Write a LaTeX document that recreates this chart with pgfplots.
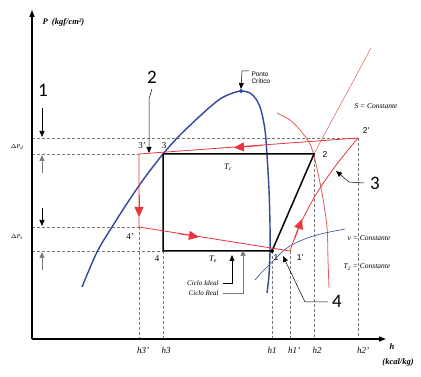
\documentclass[border=0pt]{standalone}
\usepackage{fontspec}
\setmainfont{Liberation Serif}
\newfontfamily\calfont{Carlito}
\newfontfamily\arfont{Liberation Sans}
\usepackage{pgfplots}
\pgfplotsset{compat=1.18}
\usetikzlibrary{arrows.meta}
\definecolor{domeblue}{RGB}{50,70,155}
\definecolor{cycred}{RGB}{232,52,58}
\definecolor{thinred}{RGB}{228,90,90}
\definecolor{dgray}{RGB}{120,120,120}
\begin{document}
\begin{tikzpicture}
\begin{axis}[hide axis, scale only axis, width=421pt, height=377pt,
  xmin=0, xmax=421, ymin=0, ymax=377, y dir=reverse, clip=false]
\addplot[draw=none, forget plot] coordinates {(0,0)(421,377)};
% dashed guide lines
\addplot[dgray, densely dashed, line width=0.6pt] coordinates {(32,138)(358,138)};
\addplot[dgray, densely dashed, line width=0.6pt] coordinates {(32,154)(139,154)};
\addplot[dgray, densely dashed, line width=0.6pt] coordinates {(32,227)(139,227)};
\addplot[dgray, densely dashed, line width=0.6pt] coordinates {(32,251)(163,251)};
\addplot[dgray, densely dashed, line width=0.6pt] coordinates {(139,227)(139,339)};
\addplot[dgray, densely dashed, line width=0.6pt] coordinates {(163,251)(163,339)};
\addplot[dgray, densely dashed, line width=0.6pt] coordinates {(272,251)(272,339)};
\addplot[dgray, densely dashed, line width=0.6pt] coordinates {(290,251)(290,339)};
\addplot[dgray, densely dashed, line width=0.6pt] coordinates {(314,154)(314,339)};
\addplot[dgray, densely dashed, line width=0.6pt] coordinates {(358,138)(358,339)};
% main axes
\addplot[black, line width=1.3pt, -{Triangle[length=7pt,width=5pt]}] coordinates {(32,339)(32,10)};
\addplot[black, line width=1.3pt, -{Triangle[length=7pt,width=5pt]}] coordinates {(32,339)(386,339)};
% delta P arrows
\addplot[black, line width=0.6pt, -{Triangle[length=6pt,width=5pt]}] coordinates {(42,108)(42,137)};
\addplot[dgray, line width=0.6pt, -{Triangle[length=6pt,width=5pt]}] coordinates {(42,173)(42,155)};
\addplot[black, line width=0.6pt, -{Triangle[length=6pt,width=5pt]}] coordinates {(42,208)(42,226)};
\addplot[dgray, line width=0.6pt, -{Triangle[length=6pt,width=5pt]}] coordinates {(42,270)(42,252)};
% thin constant-property curves
\addplot[thinred, line width=0.5pt] coordinates {(314,154)(330,124)(350,87)(371,48)};
\addplot[thinred, line width=0.8pt, smooth] coordinates {(277,113)(290,120)(300,130)(310,144)(315,160)(322,193)(327,227)(328,260)(329,288)};
\addplot[domeblue, line width=0.6pt, smooth] coordinates {(255,280)(262,272)(272,262)(282,252)(290,246)(300,241)(310,237)(325,233)(345,229)};
% saturation dome
\addplot[domeblue, line width=1.4pt, smooth] coordinates {(82,287)(97,252)(112,227)(126,205)(143,180)(163,154)(180,135)(200,116)(210,107)(220,99)(230,94)(241,91)(250,93)(256,99)(261,110)(265,130)(267,155)(269,190)(270,225)(270,251)(269,275)(267,293)};
\addplot[only marks, mark=*, mark size=1.8pt, domeblue] coordinates {(241,91)};
% ideal cycle
\addplot[black, line width=1.5pt] coordinates {(163,154)(314,154)(272,251)(163,251)(163,154)};
\addplot[only marks, mark=*, mark size=1.8pt, black] coordinates {(272,251)};
% real cycle
\addplot[cycred, line width=0.8pt] coordinates {(358,138)(139,154)(139,227)(290,251)};
\addplot[cycred, line width=0.8pt, smooth] coordinates {(290,251)(298,229)(310,205)(322,185)(340,160)(358,138)};
\addplot[cycred, line width=0.8pt, -{Triangle[length=10pt,width=9pt]}] coordinates {(139,195)(139,217)};
\addplot[cycred, line width=0.8pt, -{Triangle[length=10pt,width=9pt]}] coordinates {(178,233.6)(199,237)};
\addplot[cycred, line width=0.8pt, -{Triangle[length=10pt,width=9pt]}] coordinates {(295,238)(302,219)};
\addplot[cycred, line width=0.8pt, -{Triangle[length=10pt,width=9pt]}] coordinates {(262,145.5)(234,147.6)};
% pointers
\addplot[black, line width=0.5pt, -{Triangle[length=6pt,width=5pt]}] coordinates {(152,89)(149,99)(149,153)};
\addplot[black, line width=0.5pt, -{Triangle[length=6pt,width=5pt]}] coordinates {(364,183)(349,182)(336,171)};
\addplot[black, line width=0.5pt, -{Triangle[length=6pt,width=5pt]}] coordinates {(328,302)(305,302)(283,256)};
\addplot[black, line width=0.5pt, -{Triangle[length=6pt,width=5pt]}] coordinates {(249,71)(242,71)(241,89)};
\addplot[black, line width=0.5pt, -{Triangle[length=6pt,width=5pt]}] coordinates {(223,283)(232,283)(232,255)};
\addplot[dgray, line width=0.5pt, -{Triangle[length=6pt,width=5pt]}] coordinates {(223,293)(243,293)(243,250)};
% texts
\node[anchor=west, font=\fontsize{8.5}{9}\selectfont\bfseries\itshape] at (axis cs:39,22) {P\ \ (kgf/cm²)};
\node[font=\fontsize{8.5}{9}\selectfont\bfseries\itshape] at (axis cs:392,347) {h};
\node[font=\fontsize{8.5}{9}\selectfont\bfseries\itshape] at (axis cs:398,362) {(kcal/kg)};
\node[font=\fontsize{6}{7}\selectfont\itshape] at (axis cs:17,147) {$\Delta$P\textsubscript{d}};
\node[font=\fontsize{6}{7}\selectfont\itshape] at (axis cs:17,237) {$\Delta$P\textsubscript{s}};
\node[font=\fontsize{9}{10}\selectfont\itshape] at (axis cs:143,350) {h3'};
\node[font=\fontsize{9}{10}\selectfont\itshape] at (axis cs:166,350) {h3};
\node[font=\fontsize{9}{10}\selectfont\itshape] at (axis cs:272,350) {h1};
\node[font=\fontsize{9}{10}\selectfont\itshape] at (axis cs:294,350) {h1'};
\node[font=\fontsize{9}{10}\selectfont\itshape] at (axis cs:317,350) {h2};
\node[font=\fontsize{9}{10}\selectfont\itshape] at (axis cs:363,350) {h2'};
\node[font=\fontsize{9}{10}\selectfont] at (axis cs:142,146) {3'};
\node[font=\fontsize{9}{10}\selectfont] at (axis cs:164,146) {3};
\node[font=\fontsize{9}{10}\selectfont] at (axis cs:130,237) {4'};
\node[font=\fontsize{9}{10}\selectfont] at (axis cs:157,259) {4};
\node[font=\fontsize{8.5}{10}\selectfont\arfont] at (axis cs:325,155) {2};
\node[font=\fontsize{8.5}{10}\selectfont\arfont] at (axis cs:366,131) {2'};
\node[font=\fontsize{8.5}{10}\selectfont\arfont] at (axis cs:276,258) {1};
\node[font=\fontsize{8.5}{10}\selectfont\arfont] at (axis cs:300,258) {1'};
\node[font=\fontsize{8.5}{10}\selectfont\itshape] at (axis cs:228,167) {T\textsubscript{c}};
\node[font=\fontsize{8.5}{10}\selectfont\itshape] at (axis cs:213,259) {T\textsubscript{e}};
\node[anchor=west, font=\fontsize{6.5}{7.5}\selectfont\arfont, align=left] at (axis cs:248,78) {Ponto\\Crítico};
\node[anchor=east, font=\fontsize{7}{8}\selectfont\itshape] at (axis cs:222,283) {Ciclo Ideal};
\node[anchor=east, font=\fontsize{7}{8}\selectfont\itshape] at (axis cs:222,293) {Ciclo Real};
\node[font=\fontsize{7.5}{8}\selectfont\itshape] at (axis cs:376,106) {S = Constante};
\node[font=\fontsize{7.5}{8}\selectfont\itshape] at (axis cs:369,238) {v = Constante};
\node[font=\fontsize{7.5}{8}\selectfont\itshape] at (axis cs:367,267) {T\textsubscript{2} = Constante};
\node[font=\fontsize{19}{20}\selectfont\calfont] at (axis cs:43,90) {1};
\node[font=\fontsize{19}{20}\selectfont\calfont] at (axis cs:152,77) {2};
\node[font=\fontsize{19}{20}\selectfont\calfont] at (axis cs:375,183) {3};
\node[font=\fontsize{19}{20}\selectfont\calfont] at (axis cs:337,301) {4};
\end{axis}
\end{tikzpicture}
\end{document}
